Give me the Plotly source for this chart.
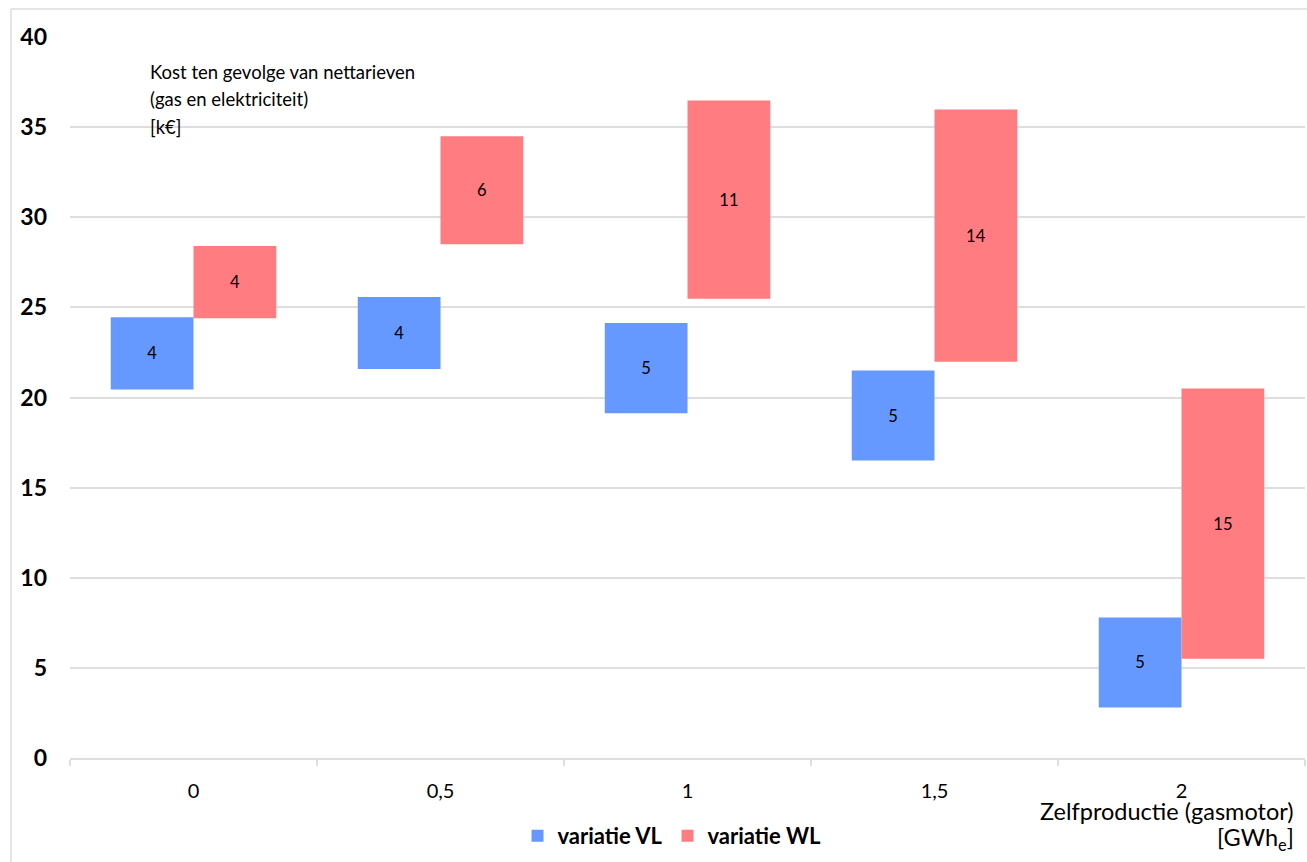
import plotly.graph_objects as go

# Categories: self-production by gas engine [GWh_e]
categories = ["0", "0,5", "1", "1,5", "2"]

# Range of network-tariff cost per scenario [k€]: base (lower end) and width
vl_base = [20.45, 21.58, 19.13, 16.5, 2.8]
vl_range = [4, 4, 5, 5, 5]
wl_base = [24.4, 28.5, 25.48, 21.98, 5.5]
wl_range = [4, 6, 11, 14, 15]

y_ticks = [0, 5, 10, 15, 20, 25, 30, 35, 40]

title_lines = ["Kost ten gevolge van nettarieven", "(gas en elektriciteit)", "[k€]"]
xtitle_lines = ["Zelfproductie (gasmotor)", "[GWh<sub>e</sub>]"]

FONT = "Lato"
BLUE = "#6699FF"
RED = "#FF7C80"
GRID = "#DEDEDE"

# plot-area geometry in pixels, used to place paper-anchored annotations
L, T, W, H = 70, 37, 1235, 721


def px_x(x):
    return (x - L) / W


def px_y(y):
    return (T + H - y) / H


fig = go.Figure()
for name, base, rng, color in [("variatie VL", vl_base, vl_range, BLUE),
                               ("variatie WL", wl_base, wl_range, RED)]:
    fig.add_trace(go.Bar(
        name=name, x=categories, y=rng, base=base,
        marker=dict(color=color, line=dict(width=0)),
        text=[str(v) for v in rng], textposition="inside",
        insidetextanchor="middle", textangle=0,
        textfont=dict(family=FONT, size=16.5, color="black"),
    ))

annotations = []
for i, line in enumerate(title_lines):
    annotations.append(dict(
        text=line, xref="paper", yref="paper", x=px_x(148), y=px_y(72 + 27.5 * i),
        xanchor="left", yanchor="middle", align="left", showarrow=False,
        font=dict(family=FONT, size=18.5, color="black")))
for i, line in enumerate(xtitle_lines):
    annotations.append(dict(
        text=line, xref="paper", yref="paper", x=px_x(1296), y=px_y(811 + 28 * i),
        xanchor="right", yanchor="middle", align="right", showarrow=False,
        font=dict(family=FONT, size=23.5, color="black")))

fig.update_layout(
    width=1307, height=862,
    margin=dict(l=L, r=1307 - L - W, t=T, b=862 - T - H),
    paper_bgcolor="white", plot_bgcolor="white",
    font=dict(family=FONT, size=18, color="black"),
    barmode="group", bargap=0.33, bargroupgap=0,
    showlegend=True,
    legend=dict(orientation="h", x=px_x(672), xanchor="center",
                y=px_y(836), yanchor="middle",
                font=dict(family=FONT, size=22, color="black", weight="bold"),
                itemwidth=30, traceorder="normal"),
    xaxis=dict(
        type="category", tickson="boundaries", ticks="outside",
        ticklen=6, tickcolor=GRID, tickwidth=1.5,
        showline=True, linecolor=GRID, linewidth=1.5,
        showgrid=False, ticklabelstandoff=14,
        tickfont=dict(family=FONT, size=20, color="black"),
    ),
    yaxis=dict(
        range=[0, 40], tickvals=y_ticks, ticks="",
        showgrid=True, gridcolor=GRID, gridwidth=1.5,
        zeroline=False, showline=False, ticklabelstandoff=22,
        tickfont=dict(family=FONT, size=23, color="black", weight="bold"),
    ),
    annotations=annotations,
    shapes=[
        dict(type="line", xref="paper", yref="paper",
             x0=px_x(11), x1=px_x(11), y0=px_y(862), y1=px_y(9),
             line=dict(color="#DDDDDD", width=1.5)),
        dict(type="line", xref="paper", yref="paper",
             x0=px_x(11), x1=px_x(1307), y0=px_y(9), y1=px_y(9),
             line=dict(color="#DDDDDD", width=1.5)),
    ],
)

fig.write_html("out.html")
